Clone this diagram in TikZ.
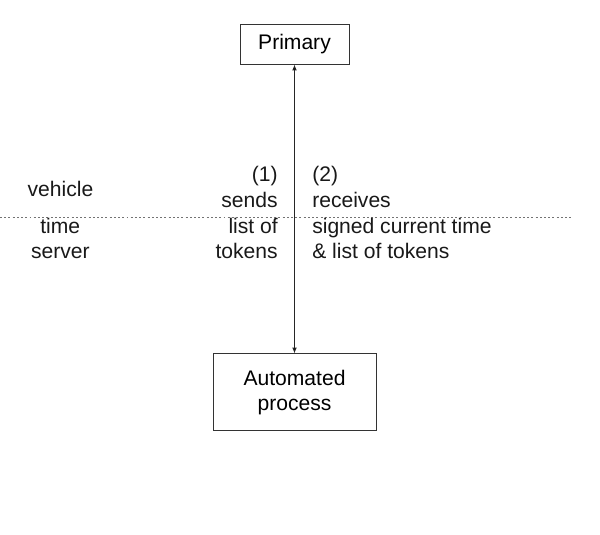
\documentclass[tikz,border=0pt]{standalone}
\usepackage{fontspec}
\setmainfont{Liberation Sans}
\usetikzlibrary{arrows.meta,positioning}

\tikzset{
  box/.style={draw=black!80, line width=0.7pt, align=center, inner sep=0pt},
  lbl/.style={inner sep=0pt, text=black!90},
  link/.style={{Latex[length=4.2pt,width=3.4pt]}-{Latex[length=4.2pt,width=3.4pt]}, line width=0.7pt, draw=black!85},
  sep/.style={draw=black!55, line width=0.7pt, dash pattern=on 1.4pt off 1.6pt}
}

\begin{document}
\begin{tikzpicture}[node distance=7.225cm, font=\fontsize{15pt}{18.3pt}\selectfont]
  \useasboundingbox (0,0) rectangle (15,-13.375);
  \node[box, minimum width=2.725cm, minimum height=1cm] (primary) at (7.3625,-1.1) {Primary};
  \node[box, minimum width=4.075cm, minimum height=1.925cm, below=of primary] (auto) {Automated\\process};
  \path[link] (primary) edge (auto);
  % vehicle / time server split
  \coordinate (sepL) at (0,-5.425);
  \coordinate (sepR) at (14.3,-5.425);
  \path[sep] (sepL) edge (sepR);
  \node[lbl, anchor=base] (vehicle) at (1.5125,-4.925) {vehicle};
  \node[lbl, anchor=base, align=center] (server) at (1.5075,-6.475) {time\\server};
  \node[lbl, anchor=base east, align=right] (sends) at (6.95,-6.475) {(1)\\sends\\list of\\tokens};
  \node[lbl, anchor=base west, align=left] (receives) at (7.8,-6.475) {(2)\\receives\\signed current time\\\& list of tokens};
\end{tikzpicture}
\end{document}
